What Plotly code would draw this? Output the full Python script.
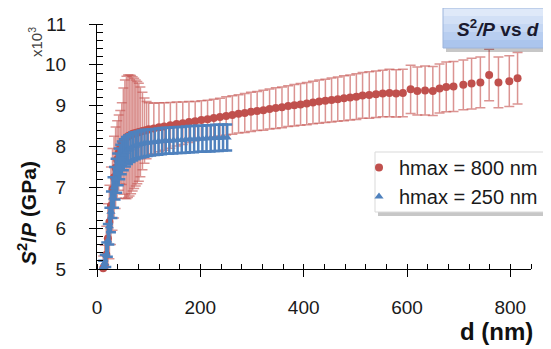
import plotly.graph_objects as go

# ---------------- data (S2/P in units of 10^3 GPa) ----------------
red_d = [12, 15, 18, 21, 24, 27, 30, 33, 36, 39,
         42, 45, 48, 51, 54, 57, 60, 63, 66, 69,
         72, 75, 78, 81, 84, 88, 92, 96, 100,
         110, 120, 130, 142, 154, 166, 178, 190, 202, 214,
         226, 238, 250, 262, 274, 286, 298, 310, 322, 334,
         346, 358, 370, 382, 394, 406, 418, 430, 442, 454,
         466, 478, 490, 502, 514, 527, 540, 553, 566, 579,
         592, 607, 620, 635, 650, 663, 676, 690, 709, 725,
         742, 759, 777, 798, 814]
red_s2p = [5.02, 5.08, 5.35, 5.75, 6.15, 6.55, 6.95, 7.25, 7.48, 7.68,
           7.85, 7.98, 8.07, 8.13, 8.18, 8.22, 8.25, 8.27, 8.29, 8.31,
           8.32, 8.33, 8.34, 8.35, 8.36, 8.38, 8.39, 8.40, 8.42,
           8.44, 8.47, 8.49, 8.52, 8.55, 8.57, 8.60, 8.62, 8.65, 8.67,
           8.70, 8.72, 8.75, 8.77, 8.80, 8.82, 8.85, 8.87, 8.89, 8.92,
           8.94, 8.96, 8.99, 9.01, 9.03, 9.05, 9.08, 9.10, 9.12, 9.14,
           9.16, 9.18, 9.20, 9.22, 9.25, 9.26, 9.28, 9.30, 9.31, 9.30,
           9.31, 9.40, 9.36, 9.37, 9.36, 9.42, 9.46, 9.47, 9.51, 9.54,
           9.57, 9.75, 9.57, 9.60, 9.67]
red_err = [0.30, 0.50, 0.70, 0.85, 0.90, 0.95, 1.00, 1.00, 1.00, 0.95,
           0.92, 0.90, 1.00, 1.30, 1.45, 1.50, 1.50, 1.48, 1.45, 1.40,
           1.35, 1.30, 1.25, 1.20, 1.10, 0.95, 0.80, 0.70, 0.65,
           0.62, 0.60, 0.58, 0.56, 0.54, 0.52, 0.50, 0.48, 0.47, 0.46,
           0.46, 0.46, 0.47, 0.47, 0.47, 0.48, 0.48, 0.48, 0.49, 0.49,
           0.50, 0.50, 0.50, 0.51, 0.51, 0.52, 0.52, 0.53, 0.53, 0.54,
           0.54, 0.55, 0.55, 0.56, 0.56, 0.57, 0.57, 0.57, 0.58, 0.58,
           0.58, 0.59, 0.59, 0.60, 0.60, 0.60, 0.61, 0.61, 0.61, 0.62,
           0.62, 0.63, 0.62, 0.62, 0.63]

blue_d = [12, 15, 18, 21, 24, 27, 30, 33, 36, 39,
          42, 45, 48, 52, 56, 60, 65, 70, 75, 80,
          86, 92, 98, 105, 112, 119, 126, 133, 140, 148,
          156, 164, 172, 180, 188, 196, 204, 212, 220, 228,
          236, 244, 252]
blue_s2p = [5.05, 5.15, 5.35, 5.70, 6.05, 6.40, 6.75, 7.00, 7.20, 7.35,
            7.50, 7.62, 7.72, 7.80, 7.87, 7.92, 7.96, 8.00, 8.02, 8.04,
            8.06, 8.08, 8.09, 8.10, 8.11, 8.12, 8.13, 8.14, 8.14, 8.15,
            8.16, 8.16, 8.17, 8.18, 8.18, 8.19, 8.19, 8.20, 8.20, 8.21,
            8.21, 8.22, 8.22]
blue_err = [0.15, 0.20, 0.30, 0.40, 0.45, 0.50, 0.50, 0.50, 0.50, 0.48,
            0.45, 0.42, 0.40, 0.38, 0.36, 0.35, 0.34, 0.34, 0.33, 0.33,
            0.33, 0.33, 0.32, 0.32, 0.32, 0.32, 0.32, 0.32, 0.32, 0.32,
            0.32, 0.32, 0.32, 0.32, 0.32, 0.32, 0.32, 0.32, 0.32, 0.32,
            0.32, 0.32, 0.32]

series_names = ["hmax = 800 nm", "hmax = 250 nm"]
x_ticks = [0, 200, 400, 600, 800]
y_ticks = [5, 6, 7, 8, 9, 10, 11]

RED = "#C0504D"
RED_ERR = "rgba(200,90,88,0.65)"
BLUE = "#4F81BD"
FONT = "Liberation Sans"

fig = go.Figure()
fig.add_trace(go.Scatter(
    x=red_d, y=red_s2p, mode="markers", name=series_names[0],
    marker=dict(symbol="circle", size=8, color=RED),
    error_y=dict(type="data", array=red_err, visible=True,
                 color=RED_ERR, thickness=1.5, width=5),
    cliponaxis=False))
fig.add_trace(go.Scatter(
    x=blue_d, y=blue_s2p, mode="markers", name=series_names[1],
    marker=dict(symbol="triangle-up", size=8, color=BLUE),
    error_y=dict(type="data", array=blue_err, visible=True,
                 color=BLUE, thickness=2.5, width=5),
    cliponaxis=False))

# page coords (the page has an 8 px body margin): plot area x 97..531, y 24..269
def px(x):
    return (x - 97) / 434.0

def py(y):
    return (269 - y) / 245.0

shapes = []
# legend shadow + box
shapes.append(dict(type="rect", xref="paper", yref="paper",
                   x0=px(378), x1=px(556), y0=py(216), y1=py(156),
                   fillcolor="rgba(0,0,0,0.22)", line=dict(width=0), layer="above"))
shapes.append(dict(type="rect", xref="paper", yref="paper",
                   x0=px(375), x1=px(556), y0=py(212), y1=py(152),
                   fillcolor="white", line=dict(color="#d9d9d9", width=1), layer="above"))
# title box shadow + gradient bands
shapes.append(dict(type="rect", xref="paper", yref="paper",
                   x0=px(446), x1=px(556), y0=py(52), y1=py(11),
                   fillcolor="rgba(0,0,0,0.22)", line=dict(width=0), layer="above"))
grad = ["#dfe9f9", "#d2e0f6", "#c5d7f3", "#b8cef0", "#abc5ed"]
top, bot = 8, 48
step = (bot - top) / len(grad)
for i, c in enumerate(grad):
    shapes.append(dict(type="rect", xref="paper", yref="paper",
                       x0=px(443), x1=px(556),
                       y0=py(top + (i + 1) * step), y1=py(top + i * step),
                       fillcolor=c, line=dict(width=0), layer="above"))
shapes.append(dict(type="rect", xref="paper", yref="paper",
                   x0=px(443), x1=px(556), y0=py(48), y1=py(8),
                   fillcolor="rgba(0,0,0,0)", line=dict(color="#9db5dc", width=1), layer="above"))

annotations = [
    dict(text="<b><i>S</i><sup>2</sup><i>/P</i> vs <i>d</i></b>", xref="paper", yref="paper",
         x=px(498), y=py(28), xanchor="center", yanchor="middle", showarrow=False,
         font=dict(family=FONT, size=19, color="#1a1a2e")),
    dict(text="<b><i>S</i><sup>2</sup>/<i>P</i> (GPa)</b>", xref="paper", yref="paper",
         x=px(27), y=py(213), xanchor="center", yanchor="middle", showarrow=False,
         textangle=-90, font=dict(family=FONT, size=21, color="#111111")),
    dict(text="x10<sup>3</sup>", xref="paper", yref="paper",
         x=px(35), y=py(42), xanchor="center", yanchor="middle", showarrow=False,
         textangle=-90, font=dict(family=FONT, size=15, color="#404040")),
    dict(text="<b>d (nm)</b>", xref="paper", yref="paper",
         x=px(496), y=py(331), xanchor="center", yanchor="middle", showarrow=False,
         font=dict(family=FONT, size=24, color="#111111")),
]

axis_common = dict(showgrid=False, zeroline=False, showline=True,
                   linecolor="black", linewidth=1.3,
                   ticks="outside", ticklen=7, tickwidth=1.3, tickcolor="black",
                   tickfont=dict(family=FONT, size=19, color="#1a1a1a"))

fig.update_layout(
    width=543, height=341,
    margin=dict(l=89, r=20, t=16, b=80, autoexpand=False),
    paper_bgcolor="white", plot_bgcolor="white",
    showlegend=True,
    legend=dict(x=px(359), y=py(148), xanchor="left", yanchor="top",
                bgcolor="rgba(0,0,0,0)", borderwidth=0,
                font=dict(family=FONT, size=20, color="#1a1a1a"),
                itemwidth=30, tracegroupgap=0),
    xaxis=dict(range=[0, 840], tickvals=x_ticks, ticklabelstandoff=14,
               minor=dict(ticks="inside", dtick=40, tick0=0, ticklen=5,
                          tickwidth=1.2, tickcolor="black"),
               **axis_common),
    yaxis=dict(range=[5, 11], tickvals=y_ticks, ticklabelstandoff=19,
               minor=dict(ticks="inside", dtick=0.2, tick0=5, ticklen=6,
                          tickwidth=1.2, tickcolor="black"),
               **axis_common),
    xaxis2=dict(overlaying="x", anchor="y", side="bottom", range=[0, 840],
                tickvals=x_ticks, ticks="inside", ticklen=6, tickwidth=1.3,
                tickcolor="black", showticklabels=False, showline=False,
                showgrid=False, zeroline=False),
    yaxis2=dict(overlaying="y", anchor="x", side="left", range=[5, 11],
                tickvals=y_ticks, ticks="inside", ticklen=9, tickwidth=1.3,
                tickcolor="black", showticklabels=False, showline=False,
                showgrid=False, zeroline=False),
    shapes=shapes,
    annotations=annotations,
)

fig.write_html("out.html")
